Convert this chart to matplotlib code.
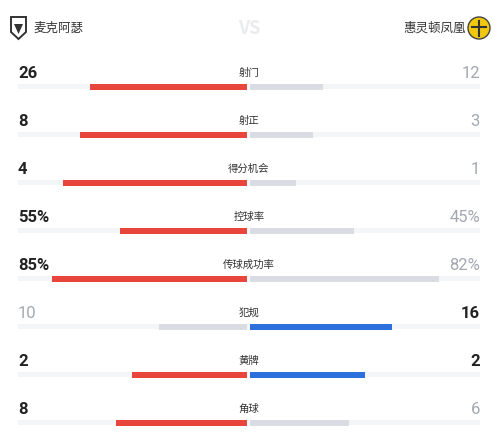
import matplotlib.pyplot as plt
from matplotlib.patches import Polygon, Circle

plt.rcParams['font.family'] = ['Noto Sans CJK SC', 'DejaVu Sans']

home_team = "麦克阿瑟"
away_team = "惠灵顿凤凰"

stats = ["射门", "射正", "得分机会", "控球率", "传球成功率", "犯规", "黄牌", "角球"]
home_vals = [26, 8, 4, 55, 85, 10, 2, 8]
away_vals = [12, 3, 1, 45, 82, 16, 2, 6]
is_pct = [False, False, False, True, True, False, False, False]

RED = "#e8463c"
BLUE = "#2d6fdc"
GREY = "#d9dde3"
TRACK = "#f4f5f7"
DARK = "#222222"
MUTED = "#a3a8b0"

fig = plt.figure(figsize=(5, 4.4), dpi=100)
ax = fig.add_axes([0, 0, 1, 1])
ax.set_xlim(0, 500)
ax.set_ylim(440, 0)
ax.axis("off")

cx, half = 248, 230

# header: rough team badges
shield = Polygon([(11, 17), (26, 17), (26, 32), (18.5, 39), (11, 32)], closed=True,
                 facecolor="white", edgecolor="#333333", lw=1.4)
ax.add_patch(shield)
ax.add_patch(Polygon([(14, 24), (23, 24), (18.5, 34)], closed=True, facecolor="#333333"))
ax.text(33, 28, home_team, fontsize=9, color="#333333", va="center", ha="left")
ax.add_patch(Circle((479, 28), 11, facecolor="#f2c80f", edgecolor="#444444", lw=1))
ax.plot([472, 486], [27, 27], color="#333333", lw=1.5)
ax.plot([479, 479], [21, 36], color="#333333", lw=1.5)
ax.text(466, 28, away_team, fontsize=9, color="#333333", va="center", ha="right")
ax.text(249, 29, "VS", fontsize=13, color="#ebecee", fontweight="bold", style="italic",
        va="center", ha="center")

for i, name in enumerate(stats):
    ty = 73 + 48 * i
    by = 87 + 48 * i
    h, a = home_vals[i], away_vals[i]
    if is_pct[i]:
        fh, fa = h / 100, a / 100
        lh, la = f"{h}%", f"{a}%"
    else:
        fh, fa = h / (h + a), a / (h + a)
        lh, la = str(h), str(a)

    home_win = h >= a
    away_win = a >= h
    ax.barh(by, 462, left=18, height=5, color=TRACK, zorder=1)
    ax.barh(by, -half * fh, left=cx - 1, height=6, color=RED if home_win else GREY, zorder=2)
    ax.barh(by, half * fa, left=cx + 2, height=6, color=BLUE if away_win else GREY, zorder=2)

    ax.text(18, ty, lh, fontsize=12, fontfamily="Roboto", fontweight="bold" if home_win else "normal",
            color=DARK if home_win else MUTED, va="center", ha="left")
    ax.text(480, ty, la, fontsize=12, fontfamily="Roboto", fontweight="bold" if away_win else "normal",
            color=DARK if away_win else MUTED, va="center", ha="right")
    ax.text(249, ty, name, fontsize=7.5, color="#333333", va="center", ha="center")

fig.savefig("out.png", dpi=100, facecolor="white")
